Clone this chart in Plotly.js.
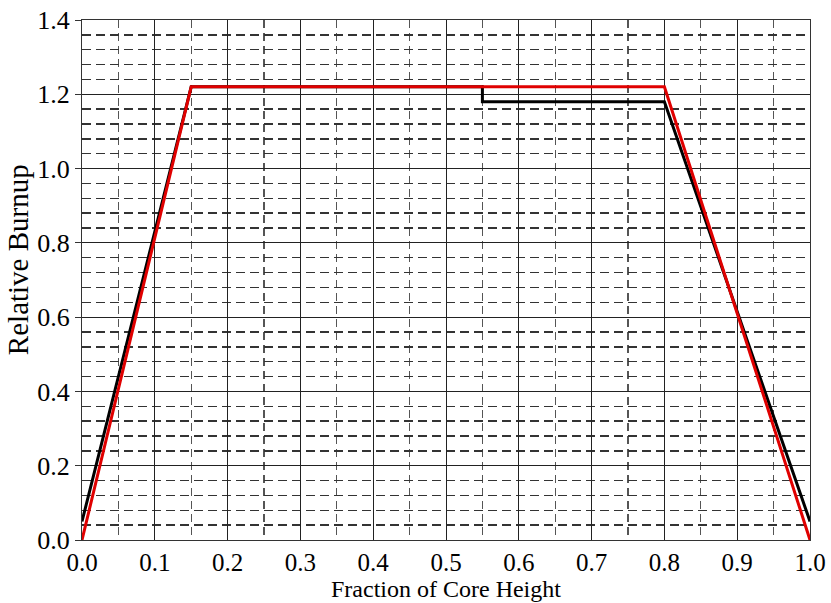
<!DOCTYPE html>
<html>
<head>
<meta charset="utf-8">
<script src="https://cdn.plot.ly/plotly-3.0.1.min.js"></script>
<style>html,body{margin:0;padding:0;background:#fff;}#chart{width:831px;height:603px;}</style>
</head>
<body>
<div id="chart"></div>
<script>
const blackX = [0.0, 0.15, 0.55, 0.55, 0.8, 1.0];
const blackY = [0.05, 1.22, 1.22, 1.18, 1.18, 0.05];
const redX = [0.0, 0.15, 0.8, 1.0];
const redY = [0.0, 1.22, 1.22, 0.0];
const xTitle = 'Fraction of Core Height';
const yTitle = 'Relative Burnup';

const fam = '"Liberation Serif", "Times New Roman", serif';
const yTickFont = {family: fam, size: 26, color: '#000'};
const xTickFont = {family: fam, size: 25, color: '#000'};
const xTitleFont = {family: fam, size: 24, color: '#000'};
const yTitleFont = {family: fam, size: 29, color: '#000'};

const traces = [
  {x: blackX, y: blackY, mode: 'lines', line: {color: '#000', width: 3}, hoverinfo: 'skip'},
  {x: redX, y: redY, mode: 'lines', line: {color: '#e00000', width: 3}, hoverinfo: 'skip'}
];

const layout = {
  width: 831, height: 603,
  margin: {l: 82, r: 21, t: 20, b: 63},
  paper_bgcolor: '#fff', plot_bgcolor: '#fff',
  showlegend: false,
  font: yTickFont,
  xaxis: {
    range: [0, 1], dtick: 0.1, tick0: 0, tickformat: '.1f',
    showgrid: true, gridcolor: '#222', gridwidth: 1,
    zeroline: false, showline: true, linecolor: '#333', linewidth: 1, mirror: true,
    ticks: '',
    minor: {dtick: 0.05, showgrid: true, gridcolor: '#555', griddash: '8px,5px', gridwidth: 1.2},
    tickfont: xTickFont, automargin: false
  },
  yaxis: {
    range: [0, 1.4], dtick: 0.2, tick0: 0, tickformat: '.1f',
    showgrid: true, gridcolor: '#222', gridwidth: 1,
    zeroline: false, showline: true, linecolor: '#333', linewidth: 1, mirror: true,
    ticks: 'outside', ticklen: 6, tickcolor: '#333',
    minor: {dtick: 0.04, showgrid: true, gridcolor: '#333', griddash: '9px,5px', gridwidth: 1.4},
    tickfont: yTickFont, automargin: false
  },
  annotations: [
    {
      text: yTitle, font: yTitleFont, textangle: -90, showarrow: false,
      xref: 'paper', yref: 'paper', x: -0.088, y: 0.54, xanchor: 'center', yanchor: 'middle'
    },
    {
      text: xTitle, font: xTitleFont, showarrow: false, borderpad: 0,
      xref: 'paper', yref: 'paper', x: 0.5, y: -0.1212, xanchor: 'center', yanchor: 'bottom'
    }
  ]
};

Plotly.newPlot('chart', traces, layout, {staticPlot: true, displayModeBar: false});
</script>
</body>
</html>
